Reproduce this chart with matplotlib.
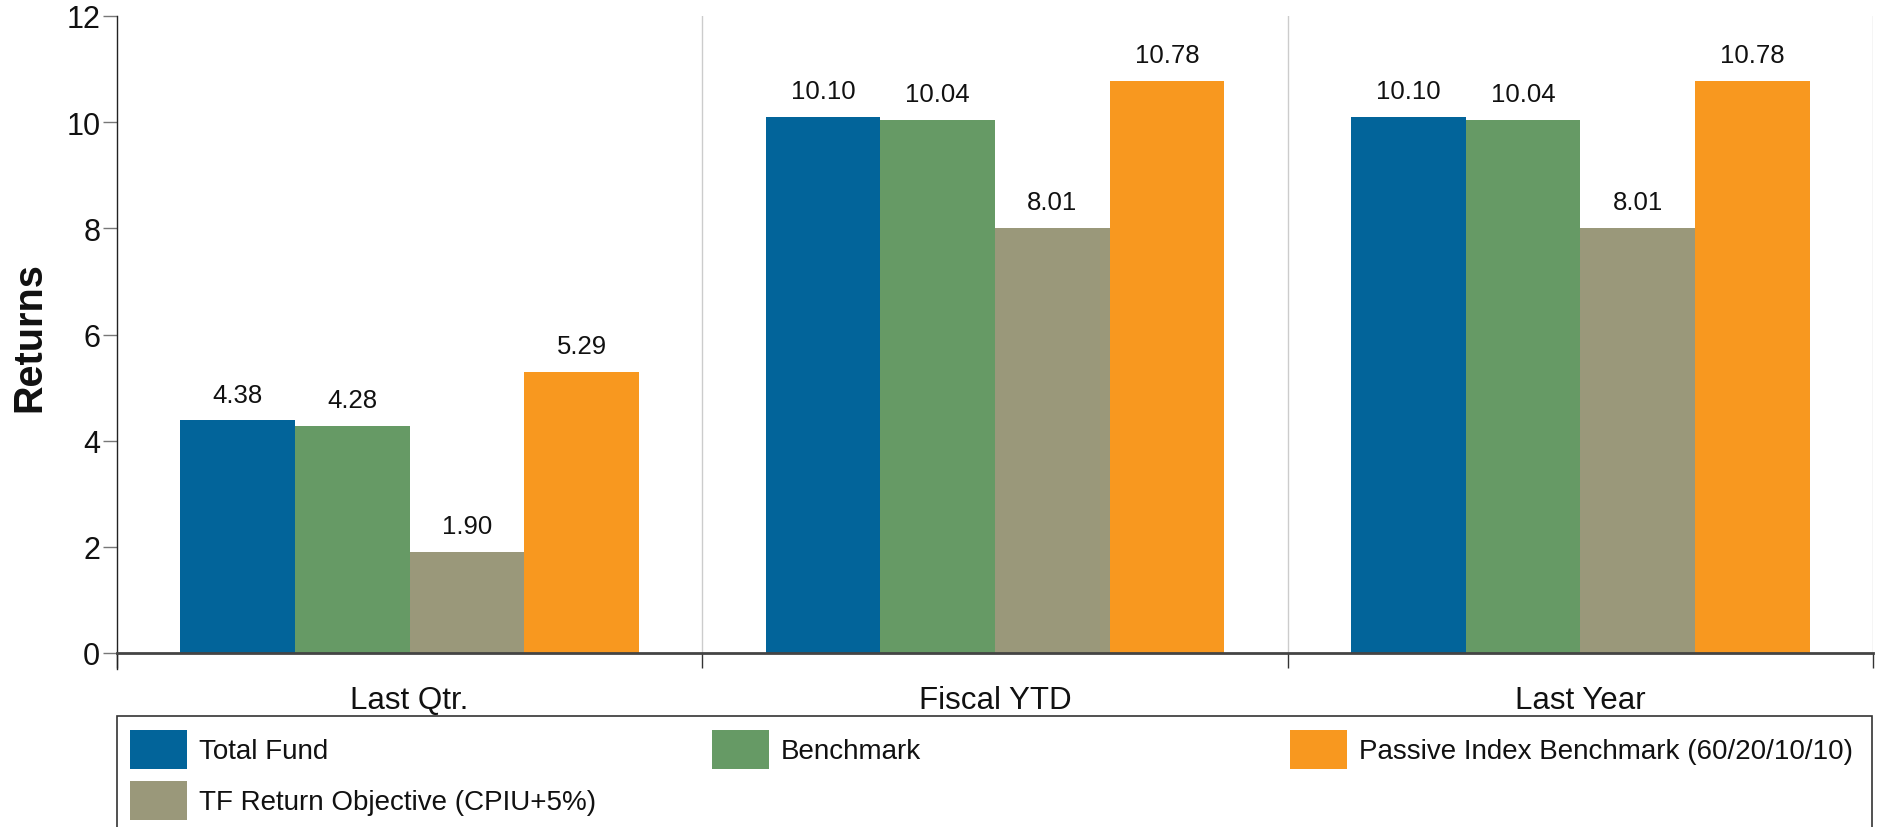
import matplotlib
matplotlib.use("Agg")
import matplotlib.pyplot as plt
from matplotlib.patches import Patch, Rectangle
import numpy as np

plt.rcParams['font.family'] = ['Liberation Sans', 'DejaVu Sans']

categories = ["Last Qtr.", "Fiscal YTD", "Last Year"]
series_names = ["Total Fund", "Benchmark", "TF Return Objective (CPIU+5%)",
                "Passive Index Benchmark (60/20/10/10)"]
total_fund = [4.38, 10.10, 10.10]
benchmark = [4.28, 10.04, 10.04]
tf_objective = [1.90, 8.01, 8.01]
passive_index = [5.29, 10.78, 10.78]
series_values = [total_fund, benchmark, tf_objective, passive_index]
colors = ["#02649A", "#669A65", "#9A987A", "#F8981F"]
yticks = [0, 2, 4, 6, 8, 10, 12]

W, H = 1879, 828
fig = plt.figure(figsize=(W / 100, H / 100), dpi=100)
ax = fig.add_axes([117 / W, 1 - 654 / H, (1873 - 117) / W, (654 - 17) / H])

x = np.arange(len(categories))
bw = 0.196
offsets = (np.arange(4) - 1.5) * bw
for i, (vals, col) in enumerate(zip(series_values, colors)):
    ax.bar(x + offsets[i], vals, width=bw, color=col, zorder=2, linewidth=0)
    for xi, v in zip(x + offsets[i], vals):
        ax.annotate(f"{v:.2f}", (xi, v), xytext=(0, 13.5), textcoords="offset points",
                    ha="center", va="baseline", fontsize=18.5, color="#111111")

ax.set_xlim(-0.5, 2.5)
ax.set_ylim(0, 12)
ax.set_yticks(yticks)
ax.tick_params(axis="y", labelsize=22, length=10, width=1, color="#777777", pad=2,
               labelcolor="#111111")

# group boundaries
bounds = np.arange(len(categories) + 1) - 0.5
ax.set_xticks(bounds)
ax.set_xticklabels([])
ax.tick_params(axis="x", which="major", length=10.5, width=1, color="#333333")
ax.set_xticks(x, minor=True)
ax.set_xticklabels(categories, minor=True)
ax.tick_params(axis="x", which="minor", length=0, labelsize=22.5, pad=23,
               labelcolor="#111111")
for bnd in bounds[1:]:
    ax.axvline(bnd, color="#cccccc", lw=1, zorder=1)

for s in ["top", "right"]:
    ax.spines[s].set_visible(False)
ax.spines["left"].set_color("#222222")
ax.spines["left"].set_linewidth(1)
ax.spines["left"].set_bounds(-0.3, 12)
ax.spines["bottom"].set_color("#444444")
ax.spines["bottom"].set_linewidth(2)
ax.spines["bottom"].set_zorder(3)

fig.text(29 / W, 1 - 337 / H, "Returns", rotation=90, ha="center", va="center",
         fontsize=28.5, fontweight="bold", color="#111111")

# legend: frame + three columns
fig.add_artist(Rectangle((117 / W, -0.2), (1872 - 117) / W, (1 - 717 / H) + 0.2,
                         transform=fig.transFigure, fill=False, edgecolor="#333333",
                         lw=1.2))
handles = [Patch(facecolor=c, edgecolor="none") for c in colors]
col_groups = [([0, 2], 130), ([1], 712), ([3], 1290)]
fs = 20
fpx = fs * 100 / 72
hh = (39 / fpx - 0.245) / 0.65
for idxs, xpx in col_groups:
    leg = fig.legend([handles[i] for i in idxs], [series_names[i] for i in idxs],
                     loc="upper left", bbox_to_anchor=(xpx / W, 1 - 731 / H),
                     bbox_transform=fig.transFigure, frameon=False, fontsize=fs,
                     borderpad=0, borderaxespad=0, handlelength=57 / fpx,
                     handleheight=hh, handletextpad=0.43,
                     labelspacing=0.42)
    for t in leg.get_texts():
        t.set_color("#111111")

fig.savefig("out.png", dpi=100)
